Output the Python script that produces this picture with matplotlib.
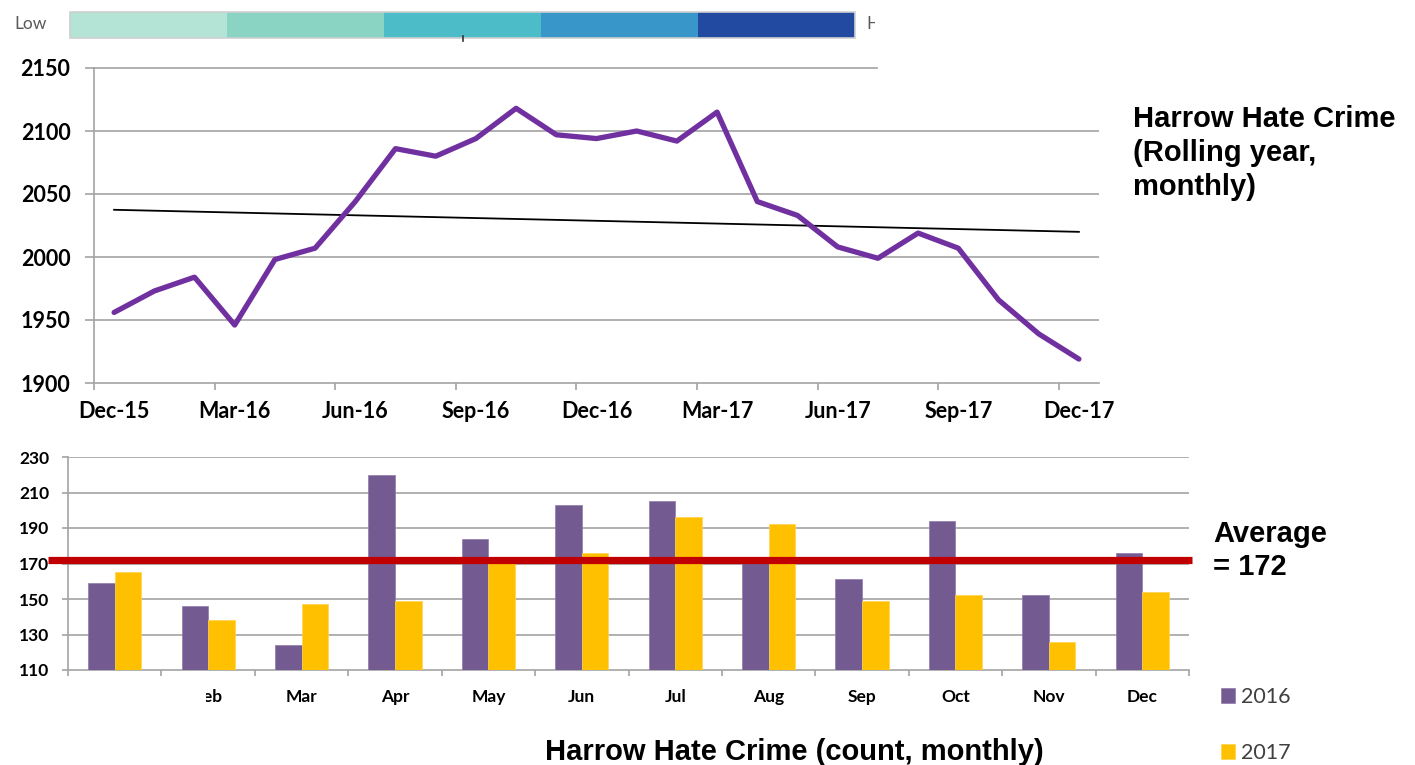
import numpy as np
import matplotlib
matplotlib.use("Agg")
import matplotlib.pyplot as plt
from matplotlib.patches import Rectangle

# ---- data -------------------------------------------------------------
# Rolling-year hate crime totals, Dec-15 .. Dec-17
ROLLING = [1956, 1973, 1984, 1946, 1998, 2007, 2044, 2086, 2080, 2094, 2118, 2097,
           2094, 2100, 2092, 2115, 2044, 2033, 2008, 1999, 2019, 2007, 1966, 1939, 1919]
ROLLING_TICK_LABELS = ["Dec-15", "Mar-16", "Jun-16", "Sep-16", "Dec-16",
                       "Mar-17", "Jun-17", "Sep-17", "Dec-17"]

# Monthly counts
MONTHS = ["Jan", "Feb", "Mar", "Apr", "May", "Jun",
          "Jul", "Aug", "Sep", "Oct", "Nov", "Dec"]
COUNT_2016 = [159, 146, 124, 220, 184, 203, 205, 172, 161, 194, 152, 176]
COUNT_2017 = [165, 138, 147, 149, 173, 176, 196, 192, 149, 152, 126, 154]
YEARS = ["2016", "2017"]
AVERAGE = 172

SCALE_COLORS = ["#b4e4d6", "#89d4c3", "#4cbcc9", "#3996c8", "#214aa0"]

# ---- styling ----------------------------------------------------------
W, H = 1415, 765
ARIAL = "Liberation Sans"
TICKFONT = "Lato"
GRID = "#a3a3a3"
PURPLE_LINE = "#7030a0"
PURPLE_BAR = "#735b91"
YELLOW_BAR = "#ffc000"
RED = "#c00000"


def box(x0, y0, x1, y1):
    """Pixel box (origin top-left) -> figure-fraction rect."""
    return [x0 / W, 1 - y1 / H, (x1 - x0) / W, (y1 - y0) / H]


def fx(x):
    return x / W


def fy(y):
    return 1 - y / H


fig = plt.figure(figsize=(W / 100, H / 100), dpi=100)
fig.patch.set_facecolor("white")

# ---- colour scale strip ----------------------------------------------
cb = fig.add_axes(box(0, 0, 875, 50))
cb.set_xlim(0, 875)
cb.set_ylim(50, 0)
cb.axis("off")
edges = np.linspace(70, 855, len(SCALE_COLORS) + 1)
for c, x0, x1 in zip(SCALE_COLORS, edges[:-1], edges[1:]):
    cb.add_patch(Rectangle((x0, 12), x1 - x0, 26, facecolor=c, edgecolor="none"))
cb.add_patch(Rectangle((70, 12), 785, 26, facecolor="none", edgecolor="#cfcfcf", lw=1.2))
cb.plot([463, 463], [36, 41], color="#333333", lw=1.2)
cb.text(31, 24, "Low", ha="center", va="center", fontsize=12.5, color="#5a5a5a",
        family=TICKFONT)
cb.text(866, 24, "High", ha="left", va="center", fontsize=12.5, color="#5a5a5a",
        family=TICKFONT, clip_on=True)

# ---- rolling year line chart ----------------------------------------
ax1 = fig.add_axes(box(94, 68, 1099, 383))
x = np.arange(len(ROLLING))
ax1.plot(x, ROLLING, color=PURPLE_LINE, lw=3.8, solid_joinstyle="round",
         solid_capstyle="round", zorder=4)
coef = np.polyfit(x, ROLLING, 1)
ax1.plot(x, np.polyval(coef, x), color="black", lw=1.3, zorder=3)

ax1.set_xlim(-0.5, len(ROLLING) - 0.5)
ax1.set_ylim(1900, 2150)
yt = np.arange(1900, 2151, 50)
ax1.set_yticks(yt)
for v in yt[1:-1]:
    ax1.axhline(v, color=GRID, lw=1.2, zorder=1)
ax1.axhline(2150, xmax=0.779, color=GRID, lw=1.2, zorder=1, clip_on=False)

ax1.set_xticks(np.arange(0, len(ROLLING), 3))
ax1.set_xticklabels(ROLLING_TICK_LABELS)
ax1.set_xticks(np.arange(-0.5, len(ROLLING) - 1, 3), minor=True)
ax1.tick_params(axis="x", which="major", length=0, pad=13)
ax1.tick_params(axis="x", which="minor", length=5, width=1.2, color=GRID)
ax1.tick_params(axis="y", length=6.5, width=1.2, color=GRID, pad=10.5)
for lab in ax1.get_xticklabels() + ax1.get_yticklabels():
    lab.set_fontfamily(TICKFONT)
    lab.set_fontweight("bold")
    lab.set_fontsize(15.5)
for s in ("top", "right"):
    ax1.spines[s].set_visible(False)
for s in ("left", "bottom"):
    ax1.spines[s].set_color(GRID)
    ax1.spines[s].set_linewidth(1.2)

fig.text(fx(1133), fy(105), "Harrow Hate Crime\n(Rolling year,\nmonthly)",
         ha="left", va="top", fontsize=21, fontweight="bold", family=ARIAL,
         linespacing=1.27)

# ---- monthly bar chart -----------------------------------------------
ax2 = fig.add_axes(box(68, 457, 1189, 670))
xm = np.arange(len(MONTHS))
bw = 0.285
b16 = ax2.bar(xm - bw / 2, COUNT_2016, bw, color=PURPLE_BAR,
              edgecolor="#8f7aab", lw=0.5, zorder=3, label=YEARS[0])
b17 = ax2.bar(xm + bw / 2, COUNT_2017, bw, color=YELLOW_BAR,
              edgecolor="#ffd24d", lw=0.5, zorder=3, label=YEARS[1])
ax2.set_xlim(-0.5, len(MONTHS) - 0.5)
ax2.set_ylim(110, 230)
yt2 = np.arange(110, 231, 20)
ax2.set_yticks(yt2)
for v in yt2[1:]:
    ax2.axhline(v, color=GRID, lw=1.2, zorder=1)
ax2.set_xticks(xm)
ax2.set_xticklabels(MONTHS)
ax2.set_xticks(np.arange(-0.5, len(MONTHS)), minor=True)
ax2.tick_params(axis="x", which="major", length=0, pad=14)
ax2.tick_params(axis="x", which="minor", length=4.5, width=1.2, color=GRID)
ax2.tick_params(axis="y", length=4.5, width=1.2, color=GRID, pad=9)
for lab in ax2.get_xticklabels() + ax2.get_yticklabels():
    lab.set_fontfamily(TICKFONT)
    lab.set_fontweight("bold")
    lab.set_fontsize(12.5)
for s in ("top", "right"):
    ax2.spines[s].set_visible(False)
for s in ("left", "bottom"):
    ax2.spines[s].set_color(GRID)
    ax2.spines[s].set_linewidth(1.2)

# average marker line, running past both ends of the plot area
ax2.plot([-0.714, 11.53], [AVERAGE, AVERAGE], color=RED, lw=5.2,
         solid_capstyle="butt", clip_on=False, zorder=5)
fig.text(fx(1213), fy(520), f"Average\n= {AVERAGE}", ha="left", va="top",
         fontsize=21, fontweight="bold", family=ARIAL, linespacing=1.22)

# white panel sitting over the first month labels
fig.add_artist(Rectangle((fx(55), fy(716)), (206 - 55) / W, 36 / H,
                         transform=fig.transFigure, facecolor="white",
                         edgecolor="none", zorder=10))

fig.text(fx(794), fy(752), "Harrow Hate Crime (count, monthly)", ha="center",
         va="center", fontsize=21, fontweight="bold", family=ARIAL)

leg = fig.legend(handles=[b16, b17], labels=YEARS, loc="upper left",
                 bbox_to_anchor=(fx(1221), fy(687)), frameon=False,
                 borderaxespad=0, borderpad=0, handlelength=0.65,
                 handleheight=0.65, handletextpad=0.3, labelspacing=1.68,
                 prop={"family": TICKFONT, "size": 15.5})
for t in leg.get_texts():
    t.set_color("#404040")

fig.savefig("out.png", dpi=100, facecolor="white")
